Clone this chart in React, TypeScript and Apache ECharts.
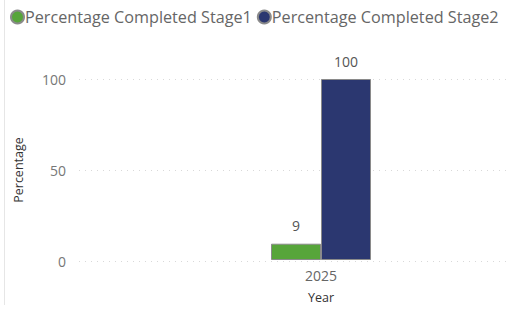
import React, { useEffect, useRef } from "react";
import * as echarts from "echarts";

const categories = ["2025"];
const stage1 = [9];
const stage2 = [100];
const seriesNames = ["Percentage Completed Stage1", "Percentage Completed Stage2"];
const yTicks = { min: 0, max: 100, interval: 50 };

const FONT = "'Open Sans', 'Noto Sans', sans-serif";

export default function App() {
  const ref = useRef<HTMLDivElement>(null);
  useEffect(() => {
    document.body.style.margin = "0";
    const chart = echarts.init(ref.current!, null, { renderer: "svg" });
    chart.setOption({
      animation: false,
      textStyle: { fontFamily: FONT },
      legend: {
        top: 9,
        left: 10,
        width: 520,
        padding: 0,
        itemGap: 5,
        itemWidth: 13,
        itemHeight: 13,
        icon: "circle",
        textStyle: { fontSize: 16.2, color: "#666", fontFamily: FONT, padding: [0, 0, 0, -4] },
        data: seriesNames,
      },
      grid: [
        { left: 79, right: 4, top: 79, bottom: 48, containLabel: false },
        { left: 135, right: 4, top: 79, bottom: 48, containLabel: false },
      ],
      xAxis: [
        { type: "category", gridIndex: 0, data: categories, show: false },
        {
          type: "category",
          gridIndex: 1,
          data: categories,
          axisLine: { show: false },
          axisTick: { show: false },
          axisLabel: { color: "#666", fontSize: 14, margin: 8, fontFamily: FONT },
          name: "Year",
          nameLocation: "middle",
          nameGap: 31,
          nameTextStyle: { color: "#333", fontSize: 12.5, fontFamily: FONT },
        },
      ],
      yAxis: [
        {
          type: "value",
          gridIndex: 0,
          ...yTicks,
          axisLine: { show: false },
          axisTick: { show: false },
          axisLabel: { color: "#777", fontSize: 14, margin: 13, fontFamily: FONT },
          splitLine: { show: true, lineStyle: { color: "#d9d9d9", type: [1, 5], width: 1 } },
          name: "Percentage",
          nameLocation: "middle",
          nameGap: 54,
          nameTextStyle: { color: "#333", fontSize: 12.5, fontFamily: FONT },
        },
        { type: "value", gridIndex: 1, ...yTicks, show: false, splitLine: { show: false } },
      ],
      series: [
        {
          name: seriesNames[0],
          type: "bar",
          xAxisIndex: 1,
          yAxisIndex: 1,
          data: stage1,
          barWidth: 50,
          barGap: "0%",
          itemStyle: { color: "#57a53a", borderColor: "#8a8a8a", borderWidth: 1 },
          label: { show: true, position: "top", distance: 11, color: "#555", fontSize: 14, fontFamily: FONT },
        },
        {
          name: seriesNames[1],
          type: "bar",
          xAxisIndex: 1,
          yAxisIndex: 1,
          data: stage2,
          barWidth: 50,
          barGap: "0%",
          itemStyle: { color: "#2b3770", borderColor: "#8a8a8a", borderWidth: 1 },
          label: { show: true, position: "top", distance: 11, color: "#555", fontSize: 14, fontFamily: FONT },
        },
      ],
      graphic: [
        {
          type: "line",
          shape: { x1: 4.5, y1: 0, x2: 4.5, y2: 305 },
          style: { stroke: "#e6e6e6", lineWidth: 1 },
        },
      ],
    });
    return () => chart.dispose();
  }, []);
  return <div ref={ref} style={{ width: 511, height: 309 }} />;
}
